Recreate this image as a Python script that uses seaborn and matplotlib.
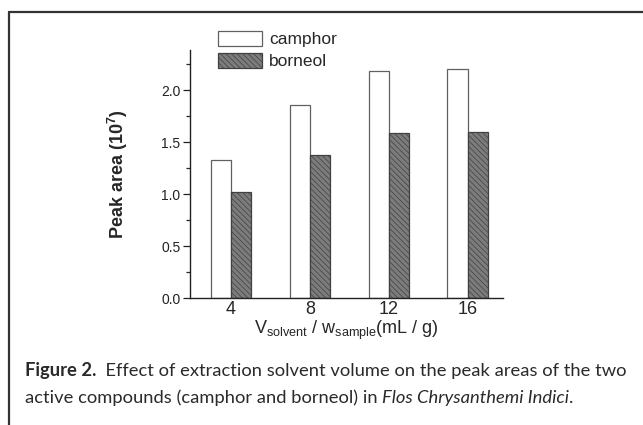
import matplotlib
matplotlib.use("Agg")
import matplotlib.pyplot as plt
import seaborn as sns
import pandas as pd
from matplotlib.lines import Line2D
from matplotlib.ticker import MultipleLocator

# ---- data ----
ratios = ["4", "8", "12", "16"]
camphor = [1.33, 1.86, 2.18, 2.20]
borneol = [1.02, 1.38, 1.59, 1.60]
series = ["camphor", "borneol"]

df = pd.DataFrame({
    "ratio": ratios * 2,
    "area": camphor + borneol,
    "compound": [series[0]] * len(ratios) + [series[1]] * len(ratios),
})

sns.set_theme(style="ticks")
plt.rcParams["font.family"] = ["Liberation Sans", "DejaVu Sans"]
plt.rcParams["hatch.linewidth"] = 0.5

fig = plt.figure(figsize=(6.43, 4.25), dpi=100)
ax = fig.add_axes([190 / 643, 1 - 298 / 425, 313 / 643, 248 / 425])

sns.barplot(data=df, x="ratio", y="area", hue="compound", order=ratios,
            hue_order=series, palette=["white", "#7c7c7c"], width=0.51,
            saturation=1, ax=ax, legend=False)

for cont, lab in zip(ax.containers, series):
    for p in cont:
        if lab == "borneol":
            p.set_hatch("\\\\\\\\\\\\")
            p.set_edgecolor("#404040")
        else:
            p.set_edgecolor("#606060")
        p.set_linewidth(0.9)

ax.set_xlim(-0.52, 3.45)
ax.set_ylim(0, 2.385)
ax.yaxis.set_major_locator(MultipleLocator(0.5))
ax.yaxis.set_minor_locator(MultipleLocator(0.25))
ax.set_yticklabels([f"{v:.1f}" for v in ax.get_yticks()])
ax.tick_params(axis="y", which="major", length=5, width=0.9, labelsize=10, pad=2, colors="#222")
ax.tick_params(axis="y", which="minor", length=3, width=0.9)
ax.tick_params(axis="x", length=0, labelsize=13, pad=2)
for s in ["top", "right"]:
    ax.spines[s].set_visible(False)
for s in ["left", "bottom"]:
    ax.spines[s].set_linewidth(1.0)
    ax.spines[s].set_color("#222")

ax.set_ylabel(r"Peak area (10$^{\mathregular{7}}$)", fontsize=13, fontweight="bold", labelpad=22)
ax.set_xlabel(r"V$_{\mathregular{solvent}}$ / w$_{\mathregular{sample}}$(mL / g)", fontsize=13, labelpad=1)

# legend
handles = [ax.containers[0][0], ax.containers[1][0]]
leg = fig.legend(handles, series, loc="upper left", bbox_to_anchor=(218 / 643, 1 - 31 / 425),
                 frameon=False, fontsize=12.5, handlelength=2.55, handleheight=0.95,
                 handletextpad=0.4, labelspacing=0.3, borderpad=0, borderaxespad=0)

# frame around figure
fig.add_artist(Line2D([9 / 643, 1.0], [1 - 12 / 425, 1 - 12 / 425], color="#333", lw=1.6))
fig.add_artist(Line2D([9 / 643, 9 / 643], [1 - 12 / 425, 0.0], color="#333", lw=1.6))

# caption
cap_fam = ["Lato", "DejaVu Sans"]
fs = 13.2
renderer = fig.canvas.get_renderer()
def seq(parts, x0, y):
    x = x0
    for txt, kw in parts:
        t = fig.text(x, y, txt, fontsize=fs, family=cap_fam, color="#2a2a2a", va="baseline", **kw)
        bb = t.get_window_extent(renderer=renderer)
        x += bb.width / fig.bbox.width
seq([("Figure 2.", {"fontweight": "bold"}),
     ("  Effect of extraction solvent volume on the peak areas of the two", {})],
    25 / 643, 1 - 376 / 425)
seq([("active compounds (camphor and borneol) in ", {}),
     ("Flos Chrysanthemi Indici", {"style": "italic"}),
     (".", {})],
    25 / 643, 1 - 403 / 425)

fig.savefig("out.png", dpi=100)
